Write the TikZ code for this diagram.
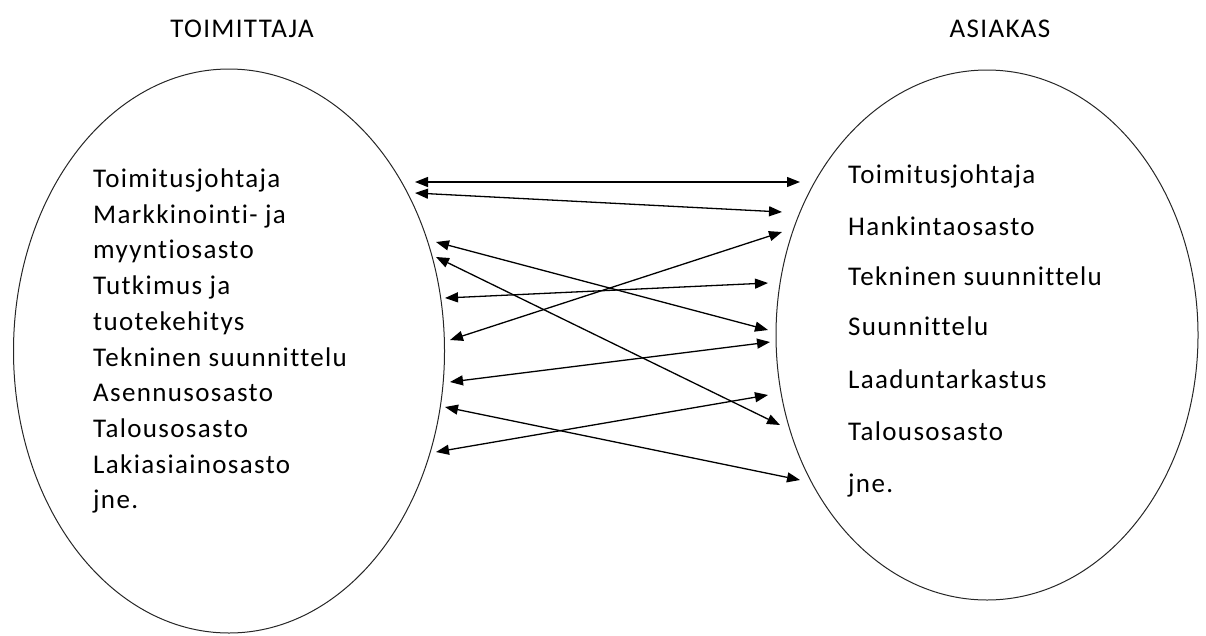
\documentclass[tikz,border=0pt]{standalone}
\usepackage{fontspec}
\setmainfont{Carlito}[Ligatures={NoCommon},LetterSpace=5]
\usetikzlibrary{arrows.meta}
\begin{document}
\begin{tikzpicture}[x=1pt,y=-1pt,
  oval/.style={draw=black!85,line width=1pt},
  lbl/.style={anchor=base west,inner sep=0pt,font=\fontsize{27}{30}\selectfont},
  ttl/.style={anchor=base,inner sep=0pt,font=\fontsize{27}{30}\selectfont},
  link/.style={line width=1.3pt,{Triangle[length=13pt,width=10pt]}-{Triangle[length=13pt,width=10pt]}}]
\useasboundingbox (0,0) rectangle (1206,635);
% ellipses
\draw[oval] (229,351) ellipse [x radius=215.5, y radius=282];
\draw[oval] (987,335) ellipse [x radius=211, y radius=265];
% titles
\node[ttl] (tl) at (242,37) {TOIMITTAJA};
\node[ttl] (tr) at (1000,37) {ASIAKAS};
% left texts
\node[lbl] (l1) at (93,187) {Toimitusjohtaja};
\node[lbl] (l2) at (93,223) {Markkinointi- ja};
\node[lbl] (l3) at (93,258.5) {myyntiosasto};
\node[lbl] (l4) at (93,294) {Tutkimus ja};
\node[lbl] (l5) at (93,330) {tuotekehitys};
\node[lbl] (l6) at (93,366) {Tekninen suunnittelu};
\node[lbl] (l7) at (93,401) {Asennusosasto};
\node[lbl] (l8) at (93,437) {Talousosasto};
\node[lbl] (l9) at (93,473) {Lakiasiainosasto};
\node[lbl] (l10) at (93,508) {jne.};
% right texts
\node[lbl] (r1) at (848,183) {Toimitusjohtaja};
\node[lbl] (r2) at (848,235) {Hankintaosasto};
\node[lbl] (r3) at (848,285) {Tekninen suunnittelu};
\node[lbl] (r4) at (848,335) {Suunnittelu};
\node[lbl] (r5) at (848,388) {Laaduntarkastus};
\node[lbl] (r6) at (848,440) {Talousosasto};
\node[lbl] (r7) at (848,492) {jne.};
% arrow end points
\coordinate (a1l) at (415,182); \coordinate (a1r) at (800,182);
\coordinate (a2l) at (415,193); \coordinate (a2r) at (782,212);
\coordinate (a3l) at (436,242); \coordinate (a3r) at (768,330);
\coordinate (a4l) at (436,257); \coordinate (a4r) at (780,425);
\coordinate (a5l) at (450,340); \coordinate (a5r) at (782,232);
\coordinate (a6l) at (445,298); \coordinate (a6r) at (768,283);
\coordinate (a7l) at (450,382); \coordinate (a7r) at (770,342);
\coordinate (a8l) at (445,407); \coordinate (a8r) at (800,480);
\coordinate (a9l) at (436,452); \coordinate (a9r) at (768,395);
\foreach \i in {1,...,9} {\draw[link] (a\i l) -- (a\i r);}
\end{tikzpicture}
\end{document}
